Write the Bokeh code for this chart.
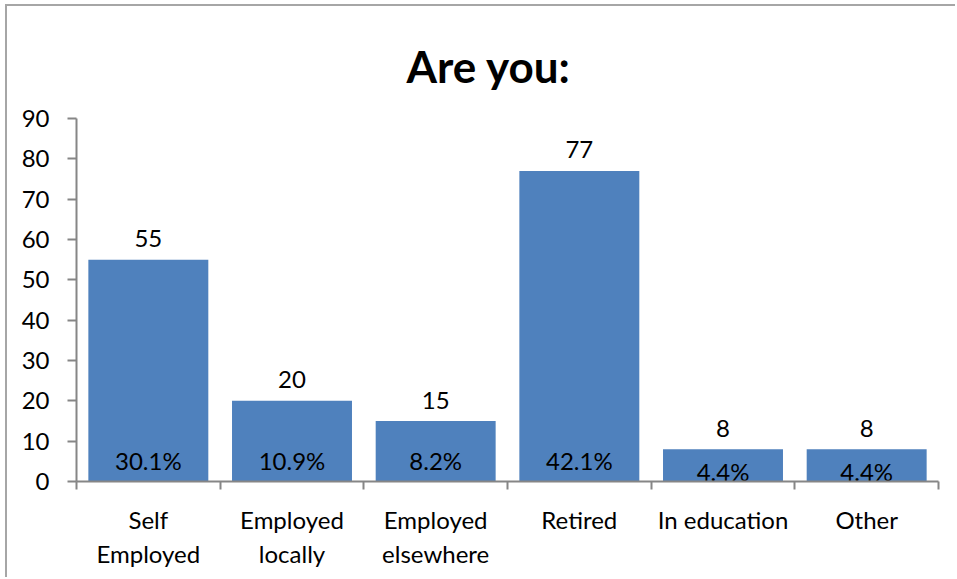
from bokeh.plotting import figure
from bokeh.models import Range1d, FixedTicker, SingleIntervalTicker, ColumnDataSource
from bokeh.core.properties import value
from bokeh.embed import file_html
from bokeh.resources import INLINE

# ---- data ----
categories = ["Self\nEmployed", "Employed\nlocally", "Employed\nelsewhere",
              "Retired", "In education", "Other"]
counts = [55, 20, 15, 77, 8, 8]
y_max = 90
y_step = 10
title_text = "Are you:"

FONT = "Lato"
BAR = "#4F81BD"
AXIS = "#868686"
FS = "24px"

total = sum(counts)
pcts = [f"{c / total * 100:.1f}%" for c in counts]
xs = list(range(1, len(categories) + 1))

src = ColumnDataSource(dict(x=xs, top=counts, cnt=[str(c) for c in counts]))
tall = [i for i, c in enumerate(counts) if c > 10]
short = [i for i, c in enumerate(counts) if c <= 10]
src_tall = ColumnDataSource(dict(x=[xs[i] for i in tall], y=[0] * len(tall),
                                 pct=[pcts[i] for i in tall]))
src_short = ColumnDataSource(dict(x=[xs[i] for i in short], y=[0] * len(short),
                                  pct=[pcts[i] for i in short]))

p = figure(width=950, height=573, output_backend="svg", toolbar_location=None,
           x_range=Range1d(0.5, len(xs) + 0.5), y_range=Range1d(0, y_max),
           min_border_left=69, min_border_right=19, min_border_top=112,
           min_border_bottom=98, outline_line_color=None,
           styles={"border-left": "2px solid #a6a6a6", "border-top": "2px solid #a6a6a6",
                   "margin-left": "5px", "margin-top": "4px"})

p.xgrid.visible = False
p.ygrid.visible = False

p.title.text = title_text
p.title.align = "left"
p.title.text_font = FONT
p.title.text_font_style = "bold"
p.title.text_font_size = "44px"
p.title.text_color = "black"
p.title.standoff = 53
p.title.offset = 330

p.vbar(x="x", top="top", width=0.835, bottom=0, source=src, fill_color=BAR, line_color=None)

p.text(x="x", y="top", text="cnt", source=src, text_align="center",
       text_baseline="middle", y_offset=-21, text_font=value(FONT),
       text_font_size=FS, text_color="black")
p.text(x="x", y="y", text="pct", source=src_tall, text_align="center",
       text_baseline="middle", y_offset=-21, text_font=value(FONT),
       text_font_size=FS, text_color="black")
p.text(x="x", y="y", text="pct", source=src_short, text_align="center",
       text_baseline="middle", y_offset=-10, text_font=value(FONT),
       text_font_size=FS, text_color="black")

# x axis
xa = p.xaxis[0]
xa.ticker = FixedTicker(ticks=xs, minor_ticks=[i + 0.5 for i in range(len(xs) + 1)])
xa.major_label_overrides = {x: c for x, c in zip(xs, categories)}
xa.major_tick_out = 0
xa.major_tick_in = 0
xa.minor_tick_out = 8
xa.minor_tick_in = 0
xa.minor_tick_line_color = AXIS
xa.minor_tick_line_width = 2
xa.axis_line_color = AXIS
xa.axis_line_width = 2
xa.major_label_text_font = FONT
xa.major_label_text_font_size = FS
xa.major_label_text_color = "black"
xa.major_label_standoff = 15

# y axis
ya = p.yaxis[0]
ya.ticker = SingleIntervalTicker(interval=y_step, num_minor_ticks=0)
ya.major_tick_out = 9
ya.major_tick_in = 0
ya.minor_tick_out = 0
ya.major_tick_line_color = AXIS
ya.major_tick_line_width = 2
ya.axis_line_color = AXIS
ya.axis_line_width = 2
ya.major_label_text_font = FONT
ya.major_label_text_font_size = FS
ya.major_label_text_color = "black"
ya.major_label_standoff = 18

open("out.html", "w").write(file_html(p, INLINE))
